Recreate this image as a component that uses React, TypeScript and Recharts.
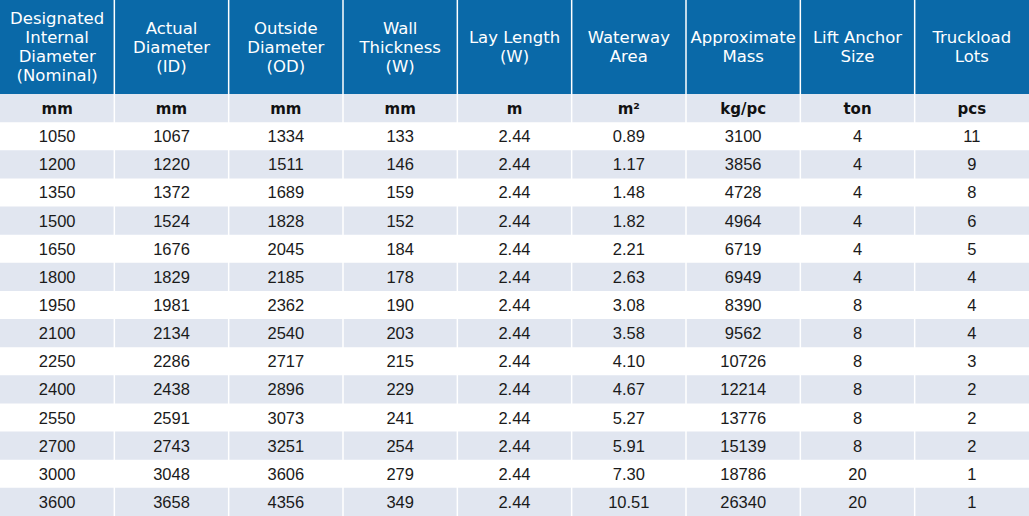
import React from "react";
import { ComposedChart, XAxis, YAxis, Scatter, ReferenceArea, ReferenceLine } from "recharts";

const headerLines: string[][] = [
  ["Designated", "Internal", "Diameter", "(Nominal)"],
  ["Actual", "Diameter", "(ID)"],
  ["Outside", "Diameter", "(OD)"],
  ["Wall", "Thickness", "(W)"],
  ["Lay Length", "(W)"],
  ["Waterway", "Area"],
  ["Approximate", "Mass"],
  ["Lift Anchor", "Size"],
  ["Truckload", "Lots"],
];
const units = ["mm", "mm", "mm", "mm", "m", "m²", "kg/pc", "ton", "pcs"];
const nominal = ["1050", "1200", "1350", "1500", "1650", "1800", "1950", "2100", "2250", "2400", "2550", "2700", "3000", "3600"];
const actual = ["1067", "1220", "1372", "1524", "1676", "1829", "1981", "2134", "2286", "2438", "2591", "2743", "3048", "3658"];
const outside = ["1334", "1511", "1689", "1828", "2045", "2185", "2362", "2540", "2717", "2896", "3073", "3251", "3606", "4356"];
const wall = ["133", "146", "159", "152", "184", "178", "190", "203", "215", "229", "241", "254", "279", "349"];
const layLength = ["2.44", "2.44", "2.44", "2.44", "2.44", "2.44", "2.44", "2.44", "2.44", "2.44", "2.44", "2.44", "2.44", "2.44"];
const waterway = ["0.89", "1.17", "1.48", "1.82", "2.21", "2.63", "3.08", "3.58", "4.10", "4.67", "5.27", "5.91", "7.30", "10.51"];
const mass = ["3100", "3856", "4728", "4964", "6719", "6949", "8390", "9562", "10726", "12214", "13776", "15139", "18786", "26340"];
const anchor = ["4", "4", "4", "4", "4", "4", "8", "8", "8", "8", "8", "8", "20", "20"];
const truckload = ["11", "9", "8", "6", "5", "4", "4", "4", "3", "2", "2", "2", "1", "1"];

const columns = [nominal, actual, outside, wall, layLength, waterway, mass, anchor, truckload];

const BLUE = "#0a69a8";
const STRIPE = "#e1e6f0";
const W = 1029;
const HEADER_H = 94;
const BODY_H = 516 - HEADER_H;
const ROWS = nominal.length + 1;

const headerCells = headerLines.map((lines, c) => ({ x: c + 0.5, y: 0.5, lines }));
const bodyCells: { x: number; y: number; text: string; unit: boolean }[] = [];
units.forEach((u, c) => bodyCells.push({ x: c + 0.5, y: 0.5, text: u, unit: true }));
columns.forEach((col, c) =>
  col.forEach((v, r) => bodyCells.push({ x: c + 0.5, y: r + 1.5, text: v, unit: false }))
);

const colLines = [1, 2, 3, 4, 5, 6, 7, 8];
const stripeRows = Array.from({ length: ROWS }, (_, i) => i).filter((i) => i % 2 === 0);

const HeaderText = (props: any) => {
  const { cx, cy, payload } = props;
  const lines: string[] = payload.lines;
  const lh = 19;
  const start = cy - ((lines.length - 1) * lh) / 2;
  return (
    <text
      x={cx}
      textAnchor="middle"
      fill="#ffffff"
      fontFamily="DejaVu Sans, sans-serif"
      fontSize={16.5}
    >
      {lines.map((l, i) => (
        <tspan key={i} x={cx} y={start + i * lh} dominantBaseline="central">
          {l}
        </tspan>
      ))}
    </text>
  );
};

const BodyText = (props: any) => {
  const { cx, cy, payload } = props;
  return (
    <text
      x={cx}
      y={cy + (payload.unit ? 1 : 0)}
      textAnchor="middle"
      dominantBaseline="central"
      fill={payload.unit ? "#111111" : "#1a1a1a"}
      fontFamily={payload.unit ? "DejaVu Sans, sans-serif" : "Liberation Sans, sans-serif"}
      fontWeight={payload.unit ? "bold" : "normal"}
      fontSize={payload.unit ? 15 : 16.5}
    >
      {payload.text}
    </text>
  );
};

export default function App() {
  return (
    <div style={{ position: "absolute", left: 0, top: 0, width: W, height: 516, background: "#fff" }}>
      <ComposedChart width={W} height={HEADER_H} data={headerCells} margin={{ top: 0, right: 0, bottom: 0, left: 0 }}>
        <XAxis dataKey="x" type="number" domain={[0, 9]} hide />
        <YAxis dataKey="y" type="number" domain={[0, 1]} reversed hide />
        <ReferenceArea x1={0} x2={9} y1={0} y2={1} fill={BLUE} fillOpacity={1} stroke="none" />
        {colLines.map((x) => (
          <ReferenceLine key={x} x={x} stroke="#ffffff" strokeWidth={1.5} />
        ))}
        <Scatter data={headerCells} shape={HeaderText} isAnimationActive={false} />
      </ComposedChart>
      <ComposedChart width={W} height={BODY_H} data={bodyCells} margin={{ top: 0, right: 0, bottom: 0, left: 0 }}>
        <XAxis dataKey="x" type="number" domain={[0, 9]} hide />
        <YAxis dataKey="y" type="number" domain={[0, ROWS]} reversed hide />
        {stripeRows.map((r) => (
          <ReferenceArea key={r} x1={0} x2={9} y1={r} y2={r + 1} fill={STRIPE} fillOpacity={1} stroke="none" />
        ))}
        {colLines.map((x) => (
          <ReferenceLine key={x} x={x} stroke="#ffffff" strokeWidth={1.5} />
        ))}
        <Scatter data={bodyCells} shape={BodyText} isAnimationActive={false} />
      </ComposedChart>
    </div>
  );
}
